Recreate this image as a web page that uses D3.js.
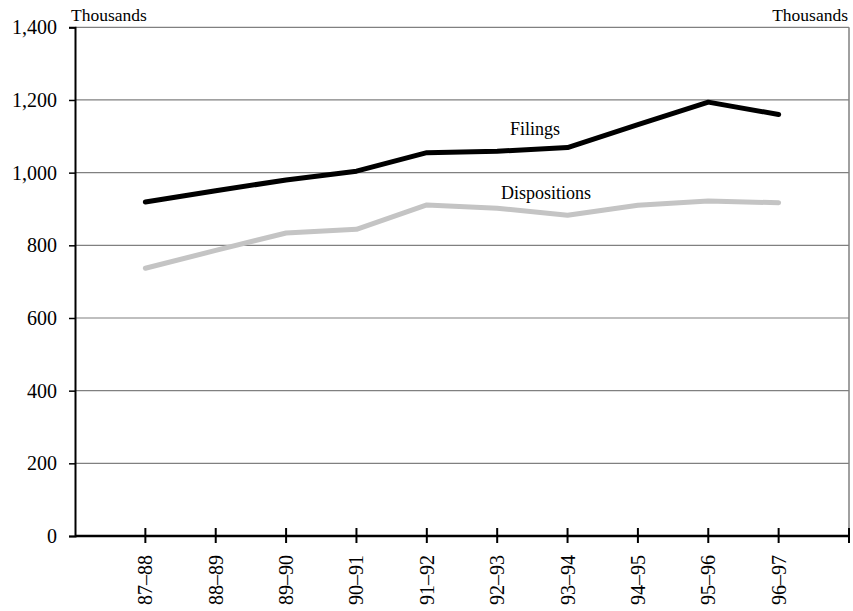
<!DOCTYPE html>
<html><head><meta charset="utf-8">
<script src="https://cdn.jsdelivr.net/npm/d3@7"></script>
<style>body{margin:0;background:#fff}svg{display:block}</style>
</head><body>
<svg id="c" width="853" height="611" style="font-family:'Liberation Serif',serif"></svg>
<script>
const categories = ["87–88","88–89","89–90","90–91","91–92","92–93","93–94","94–95","95–96","96–97"];
const filings = [919, 950, 980, 1004, 1055, 1059, 1069, 1132, 1194, 1160];
const dispositions = [737, 786, 834, 844, 911, 902, 883, 910, 922, 917];
const yTicks = [0, 200, 400, 600, 800, 1000, 1200, 1400];

const FONT = "'Liberation Serif', serif";
const svg = d3.select("#c");
const L = 75, R = 849, T = 27.3, B = 536;
const x = d3.scaleLinear().domain([0, categories.length + 1]).range([L, R]);
const y = d3.scaleLinear().domain([0, 1400]).range([B, T]);

// gridlines
svg.append("g").selectAll("line").data(yTicks.filter(d => d > 0)).join("line")
  .attr("x1", L).attr("x2", R).attr("y1", d => y(d)).attr("y2", d => y(d))
  .attr("stroke", "#808080").attr("stroke-width", 1.2);
// right border
svg.append("line").attr("x1", R).attr("x2", R).attr("y1", T).attr("y2", B)
  .attr("stroke", "#808080").attr("stroke-width", 1.5);

// y axis
const ya = svg.append("g").attr("transform", `translate(${L},0)`)
  .call(d3.axisLeft(y).tickValues(yTicks).tickFormat(d3.format(",")).tickSize(6).tickPadding(12));
ya.attr("font-family", null).attr("font-size", null);
ya.select(".domain").attr("stroke", "#000").attr("stroke-width", 2);
ya.selectAll(".tick line").attr("stroke", "#000").attr("stroke-width", 1.5);
ya.selectAll("text").style("font-size", "20px").style("font-family", FONT).attr("fill", "#000");

// x axis
const xa = svg.append("g").attr("transform", `translate(0,${B})`);
xa.append("line").attr("x1", L).attr("x2", R).attr("y1", 0).attr("y2", 0)
  .attr("stroke", "#000").attr("stroke-width", 2.5);
const xt = d3.range(0, categories.length + 2);
xa.selectAll("line.t").data(xt.slice(1)).join("line").attr("class", "t")
  .attr("x1", d => x(d)).attr("x2", d => x(d)).attr("y1", -8).attr("y2", 7)
  .attr("stroke", "#000").attr("stroke-width", 2);
xa.selectAll("text").data(categories).join("text")
  .attr("transform", (d, i) => `translate(${x(i + 1) + 7},19) rotate(-90)`)
  .attr("text-anchor", "end").style("font-size", "20px").style("font-family", FONT).text(d => d);

// lines
const line = d3.line().x((d, i) => x(i + 1)).y(d => y(d));
svg.append("path").datum(dispositions).attr("d", line).attr("fill", "none")
  .attr("stroke", "#c4c4c4").attr("stroke-width", 5).attr("stroke-linecap", "round").attr("stroke-linejoin", "round");
svg.append("path").datum(filings).attr("d", line).attr("fill", "none")
  .attr("stroke", "#000").attr("stroke-width", 5).attr("stroke-linecap", "round").attr("stroke-linejoin", "round");

// labels
function lbl(xp, yp, anchor, size, t) {
  svg.append("text").attr("x", xp).attr("y", yp).attr("text-anchor", anchor)
    .style("font-size", size).style("font-family", FONT).text(t);
}
lbl(535, 135, "middle", "18px", "Filings");
lbl(546, 199, "middle", "18px", "Dispositions");
lbl(71, 21, "start", "17.5px", "Thousands");
lbl(848, 21, "end", "17.5px", "Thousands");
</script>
</body></html>
